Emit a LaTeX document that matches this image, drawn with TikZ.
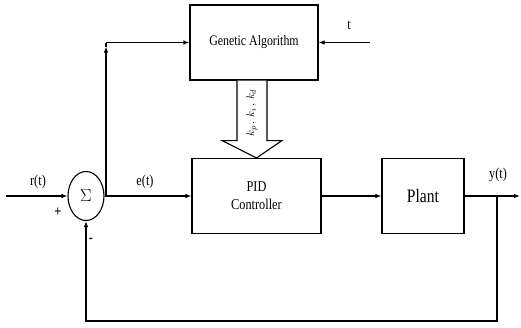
\documentclass[tikz,border=0pt]{standalone}
\usepackage{fontspec}
\setmainfont[FakeStretch=0.82]{Liberation Serif}
\usetikzlibrary{shapes.geometric,arrows.meta,calc}
\tikzset{
  blk/.style={draw,rectangle,line width=1.1pt,align=center,inner sep=0pt},
  wire/.style={line width=1.1pt},
  arr/.style={wire,-{Latex[length=6pt,width=4.5pt]}},
  lbl/.style={font=\fontsize{15}{15}\selectfont,inner sep=0pt},
}
\begin{document}
\begin{tikzpicture}[x=1pt,y=-1pt]
\useasboundingbox (0,0) rectangle (521,327);
\node[blk,minimum width=128pt,minimum height=75pt,font=\fontsize{14.5}{14.5}\selectfont] (ga) at (254,42.5) {Genetic Algorithm};
\node[blk,minimum width=129pt,minimum height=75pt,font=\fontsize{15}{18}\selectfont] (pid) at (256.5,196) {PID\\Controller};
\node[blk,minimum width=82pt,minimum height=75pt,font=\fontsize{19}{19}\selectfont] (plant) at (423,196) {Plant};
\node[draw,ellipse,line width=1.1pt,minimum width=36pt,minimum height=49pt,inner sep=0pt] (sum) at (86,196) {\fontsize{19}{19}\selectfont$\Sigma$};
\coordinate (in) at (6,196);
\coordinate (br) at (106,196);
\coordinate (corner) at (106,42.5);
\coordinate (tin) at (370,42.5);
\coordinate (out) at (520,196);
\coordinate (fb) at (497,196);
\coordinate (fbdown) at (497,321);
\coordinate (fbleft) at (86,321);
% signal connections
\draw[arr] (in) -- (sum.west);
\draw[arr] (sum.east) -- (pid.west);
\draw[arr] (pid.east) -- (plant.west);
\draw[arr] (plant.east) -- (out);
\draw[arr] (br) -- ($(corner)+(0,4)$);
\draw[wire] ($(corner)+(0,4)$) -- (corner);
\draw[arr] (corner) -- (ga.west);
\draw[arr] (tin) -- (ga.east);
\draw[arr] (fb) -- (fbdown) -- (fbleft) -- (sum.south);
% fat arrow
\draw[line width=1.1pt,fill=white] ($(ga.south)+(-17,0)$) -- ($(ga.south)+(-17,60)$) -- ($(ga.south)+(-32,60)$) -- (pid.north) -- ($(ga.south)+(28,60)$) -- ($(ga.south)+(13,60)$) -- ($(ga.south)+(13,0)$);
\node[rotate=90,inner sep=0pt,font=\fontsize{11}{11}\selectfont] (gains) at (252,113) {$k_p\,,\,k_i\,,\,k_d$};
% labels
\node[lbl] (rl) at (38,182) {r(t)};
\node[lbl] (el) at (145,182) {e(t)};
\node[lbl] (yl) at (498,175) {y(t)};
\node[lbl] (tl) at (349,25) {t};
\node[lbl,font=\fontsize{15}{15}\bfseries] (plus) at (58,212) {+};
\node[lbl,font=\fontsize{15}{15}\bfseries] (minus) at (91,240) {-};
\end{tikzpicture}
\end{document}
